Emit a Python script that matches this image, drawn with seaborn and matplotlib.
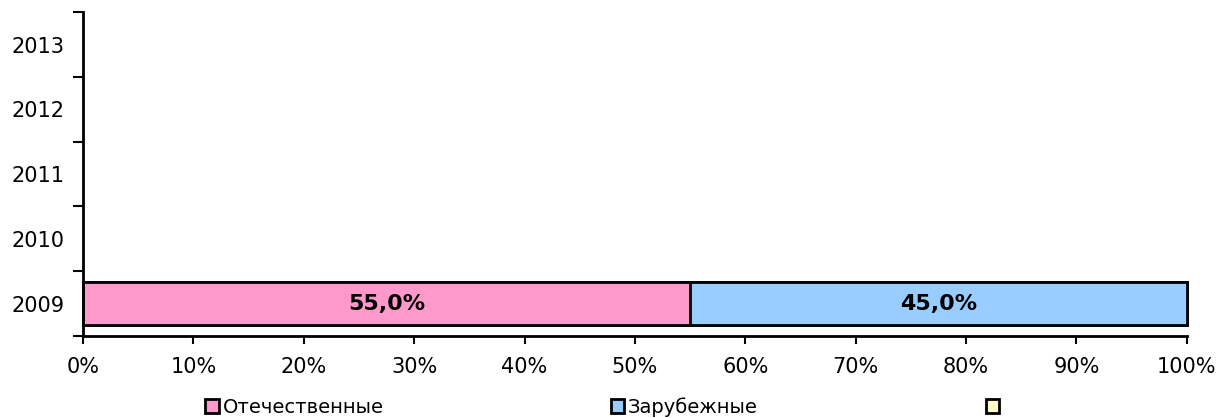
import matplotlib
matplotlib.use('Agg')
import matplotlib.pyplot as plt
from matplotlib.patches import Patch
import seaborn as sns
import pandas as pd
import numpy as np

# ---- data ----
years = ['2013', '2012', '2011', '2010', '2009']
series_names = ['Отечественные', 'Зарубежные', '']
domestic = [np.nan, np.nan, np.nan, np.nan, 55.0]
foreign = [np.nan, np.nan, np.nan, np.nan, 45.0]
other = [np.nan, np.nan, np.nan, np.nan, 0.0]
colors = ['#FF99CC', '#99CCFF', '#FFFFCC']
xticks = [0, 10, 20, 30, 40, 50, 60, 70, 80, 90, 100]

sns.set_style('ticks')
plt.rcParams['font.family'] = ['DejaVu Sans']
plt.rcParams['text.color'] = 'black'
plt.rcParams['xtick.color'] = 'black'
plt.rcParams['ytick.color'] = 'black'

FS = 15

df = pd.DataFrame({'year': years, 'd': domestic, 'f': foreign, 'o': other})
df = df.dropna().copy()
df['c1'] = df['d']
df['c2'] = df['d'] + df['f']
df['c3'] = df['d'] + df['f'] + df['o']

fig = plt.figure(figsize=(12.21, 4.18), dpi=100)
ax = fig.add_axes([0.068, 0.196, 0.904, 0.775])

for col, c in [('c3', colors[2]), ('c2', colors[1]), ('c1', colors[0])]:
    sns.barplot(data=df, x=col, y='year', order=years, orient='h', color=c,
                saturation=1, edgecolor='black', linewidth=2, width=0.66,
                errorbar=None, ax=ax)
for p in ax.patches:
    p.set_clip_on(False)

# labels
for _, r in df.iterrows():
    yi = years.index(r['year'])
    left = 0.0
    for v in [r['d'], r['f'], r['o']]:
        if v > 0:
            ax.text(left + v / 2, yi, f"{v:.1f}%".replace('.', ','),
                    ha='center', va='center', fontsize=16, fontweight='bold',
                    color='black')
        left += v

ax.set_xlim(0, 100)
ax.set_ylim(len(years) - 0.5, -0.5)
ax.set_xticks(xticks)
ax.set_xticklabels([f"{t}%" for t in xticks], fontsize=FS)
ax.set_yticks(range(len(years)))
ax.set_yticklabels(years, fontsize=FS)
ax.set_yticks(np.arange(-0.5, len(years), 1.0), minor=True)
ax.tick_params(axis='y', which='major', length=0, pad=13.5)
ax.tick_params(axis='y', which='minor', length=7, width=1.5, color='black', direction='out')
ax.tick_params(axis='x', which='major', length=6, width=1.5, color='black', direction='out', pad=9)
ax.set_xlabel('')
ax.set_ylabel('')
for s in ['top', 'right']:
    ax.spines[s].set_visible(False)
for s in ['left', 'bottom']:
    ax.spines[s].set_linewidth(2)
    ax.spines[s].set_color('black')

handles = [Patch(facecolor=c, edgecolor='black', linewidth=2) for c in colors]
fig.legend(handles, series_names, loc='center', bbox_to_anchor=(0.4947, 0.026),
           ncol=3, frameon=False, fontsize=14, handlelength=0.68, handleheight=0.68,
           handletextpad=0.2, columnspacing=11.7)

fig.savefig('out.png', dpi=100, facecolor='white')
